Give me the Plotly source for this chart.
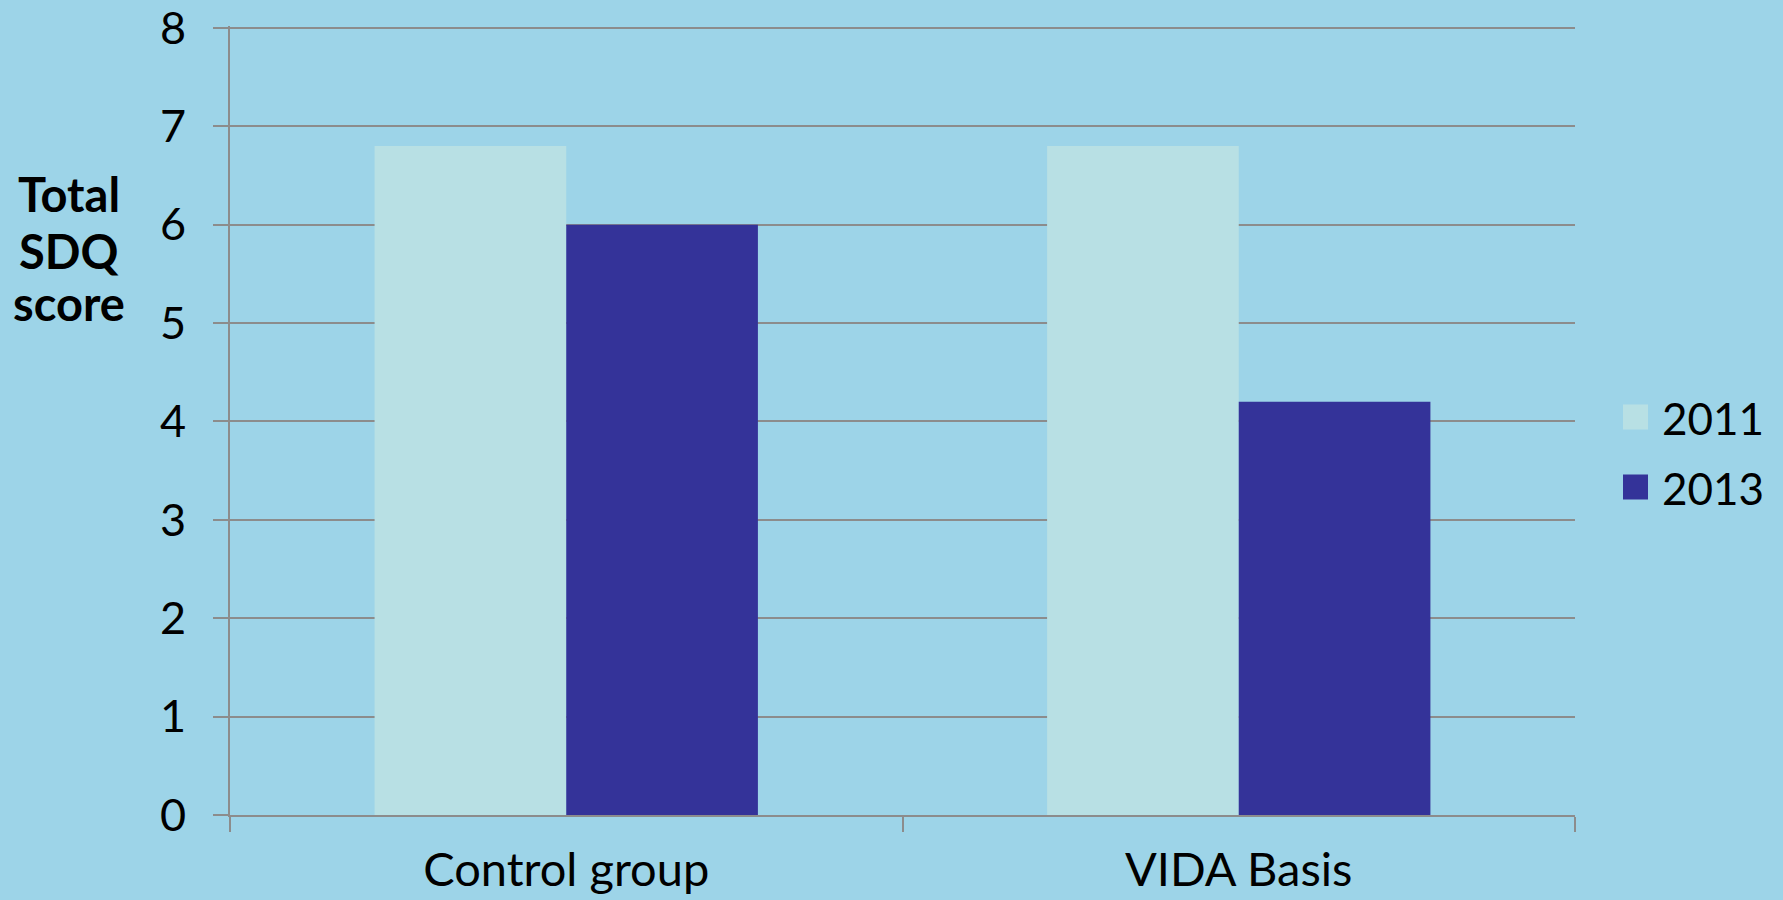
import plotly.graph_objects as go

categories = ["Control group", "VIDA Basis"]
series_names = ["2011", "2013"]
values_2011 = [6.8, 6.8]
values_2013 = [6.0, 4.2]
series_colors = ["#B8E0E4", "#343399"]
y_ticks = [0, 1, 2, 3, 4, 5, 6, 7, 8]
y_title_lines = ["Total", "SDQ", "score"]

BG = "#9DD4E8"
GRID = "#8C8C8C"
FONT = "Lato"

L, R, T, B = 230, 1575, 26, 815
PW, PH = R - L, B - T

def px_x(x):
    return (x - L) / PW

def px_y(y):
    return (B - y) / PH

fig = go.Figure()
for name, vals, col in zip(series_names, [values_2011, values_2013], series_colors):
    fig.add_trace(go.Bar(x=categories, y=vals, name=name, marker_color=col,
                         marker_line_width=0, showlegend=False))

# legend drawn manually (large squares like the reference)
leg_centers = [417, 487]
for name, col, yc in zip(series_names, series_colors, leg_centers):
    fig.add_shape(type="rect", xref="paper", yref="paper",
                  x0=px_x(1623), x1=px_x(1648),
                  y0=px_y(yc + 12.5), y1=px_y(yc - 12.5),
                  fillcolor=col, line_width=0)
    fig.add_annotation(text=name, xref="paper", yref="paper",
                       x=px_x(1660), y=px_y(yc + 1), xanchor="left", yanchor="middle",
                       showarrow=False, font=dict(family=FONT, size=44, color="black"))

for line, yc in zip(y_title_lines, [194, 251, 303]):
    fig.add_annotation(text="<b>" + line + "</b>", xref="paper", yref="paper",
                       x=px_x(69), y=px_y(yc), xanchor="center", yanchor="middle",
                       showarrow=False,
                       font=dict(family=FONT, size=47, color="black"))

fig.update_layout(
    width=1783, height=900,
    margin=dict(l=L, r=1783 - R, t=T, b=900 - B, autoexpand=False),
    paper_bgcolor=BG, plot_bgcolor=BG,
    barmode="group", bargap=0.43, bargroupgap=0,
    font=dict(family=FONT, color="black"),
)
fig.update_xaxes(showline=True, linecolor=GRID, linewidth=2, automargin=False,
                 ticks="outside", ticklen=15, tickcolor=GRID, tickwidth=2,
                 tickson="boundaries", showgrid=False, ticklabelstandoff=13,
                 ticklabeloverflow="allow",
                 tickfont=dict(family=FONT, size=47, color="black"))
fig.update_yaxes(range=[0, 8.02], tickvals=y_ticks, showline=True, linecolor=GRID, linewidth=2,
                 automargin=False, ticklabeloverflow="allow",
                 ticks="outside", ticklen=15, tickcolor=GRID, tickwidth=2,
                 showgrid=True, gridcolor=GRID, gridwidth=2, zeroline=False,
                 ticklabelstandoff=18,
                 tickfont=dict(family=FONT, size=45, color="black"))

fig.write_html("out.html")
